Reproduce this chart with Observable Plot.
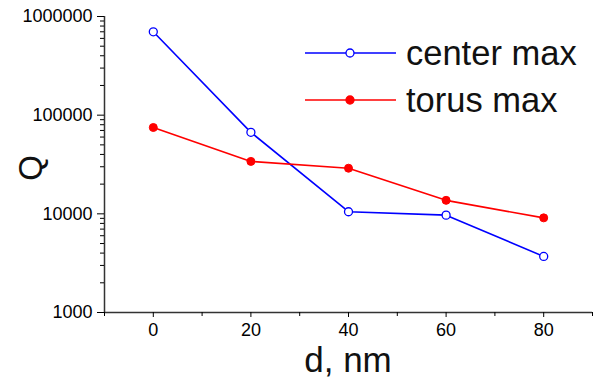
<!DOCTYPE html>
<html>
<head>
<meta charset="utf-8">
<script src="https://cdn.jsdelivr.net/npm/d3@7"></script>
<script src="https://cdn.jsdelivr.net/npm/@observablehq/plot@0.6"></script>
<style>
  html, body { margin: 0; padding: 0; background: #fff; }
</style>
</head>
<body>
<div id="wrap"></div>
<script>
const distances = [0, 20, 40, 60, 80];
const centerMax = [700000, 67000, 10500, 9700, 3700];
const torusMax = [75000, 34000, 29000, 13700, 9100];
const seriesNames = ["center max", "torus max"];
const xTicks = [0, 20, 40, 60, 80];
const xMinorTicks = [-10, 10, 30, 50, 70, 90];
const yTicks = [1000, 10000, 100000, 1000000];
const xDomain = [-10, 90];
const yDomain = [1000, 1000000];

const yMinorTicks = [];
for (let e = 3; e < 6; e++) for (let m = 2; m <= 9; m++) yMinorTicks.push(m * 10 ** e);

const center = distances.map((d, i) => ({d, q: centerMax[i]}));
const torus = distances.map((d, i) => ({d, q: torusMax[i]}));

const axisColor = "#333";
const blue = "#0000ff";
const red = "#ff0000";

const chart = Plot.plot({
  width: 600,
  height: 382,
  marginLeft: 104,
  marginRight: 8,
  marginTop: 16,
  marginBottom: 70,
  style: {fontFamily: "Liberation Sans, Arial, sans-serif", fontSize: "18px", background: "white"},
  x: {domain: xDomain},
  y: {type: "log", domain: yDomain},
  marks: [
    Plot.ruleX([xDomain[0]], {stroke: axisColor, strokeWidth: 1.5}),
    Plot.ruleY([yDomain[0]], {stroke: axisColor, strokeWidth: 1.5}),
    Plot.axisY({ticks: yMinorTicks, tickSize: 4, tickFormat: () => "", fontSize: 18, label: null}),
    Plot.axisX({ticks: xMinorTicks, tickSize: 4, tickFormat: () => "", fontSize: 18, label: null}),
    Plot.axisY({ticks: yTicks, tickSize: 7, tickPadding: 5, tickFormat: d3.format("d"), fontSize: 18, label: null}),
    Plot.axisX({ticks: xTicks, tickSize: 5, tickPadding: 6, fontSize: 18, label: null}),
    Plot.line(center, {x: "d", y: "q", stroke: blue, strokeWidth: 1.6}),
    Plot.dot(center, {x: "d", y: "q", r: 4, stroke: blue, fill: "white", strokeWidth: 1.3}),
    Plot.line(torus, {x: "d", y: "q", stroke: red, strokeWidth: 1.6}),
    Plot.dot(torus, {x: "d", y: "q", r: 4, fill: red, stroke: red, strokeWidth: 1})
  ]
});
document.getElementById("wrap").appendChild(chart);
d3.select(chart).selectAll("g[aria-label$='tick label']").attr("font-size", 18);

// Axis titles and legend, added into the Plot SVG
const svg = d3.select(chart).append("g")
  .attr("font-family", "Liberation Sans, Arial, sans-serif")
  .attr("text-anchor", "start");

svg.append("text")
  .attr("transform", "translate(42,168) rotate(-90)")
  .attr("text-anchor", "middle")
  .attr("font-size", 33)
  .attr("fill", "#111")
  .text("Q");

svg.append("text")
  .attr("x", 348).attr("y", 372)
  .attr("text-anchor", "middle")
  .attr("font-size", 35)
  .attr("fill", "#111")
  .text("d, nm");

const legend = [
  {name: seriesNames[0], color: blue, fill: "white", y: 53},
  {name: seriesNames[1], color: red, fill: red, y: 100}
];
legend.forEach(l => {
  svg.append("line").attr("x1", 305).attr("x2", 396).attr("y1", l.y).attr("y2", l.y)
    .attr("stroke", l.color).attr("stroke-width", 1.6);
  svg.append("circle").attr("cx", 350).attr("cy", l.y).attr("r", 4)
    .attr("fill", l.fill).attr("stroke", l.color).attr("stroke-width", 1.3);
  svg.append("text").attr("x", 406).attr("y", l.y + 12)
    .attr("text-anchor", "start")
    .attr("font-size", 34.5).attr("fill", "#111").text(l.name);
});
</script>
</body>
</html>
